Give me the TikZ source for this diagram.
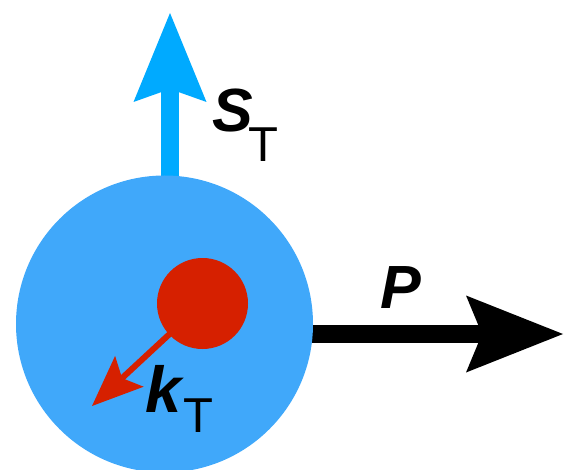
\documentclass[tikz,border=0pt]{standalone}
\usepackage{fontspec}
\setmainfont{Liberation Sans}
\usetikzlibrary{arrows.meta}
\definecolor{nucleon}{RGB}{64,168,250}
\definecolor{spin}{RGB}{0,170,255}
\definecolor{quarkred}{RGB}{214,32,0}
\tikzset{
  nucleonball/.style={circle, fill=nucleon, inner sep=0pt, minimum size=297pt},
  quarkball/.style={circle, fill=quarkred, inner sep=0pt, minimum size=91pt},
  spinarrow/.style={color=spin, line width=18pt, -{Stealth[length=89pt,width=73pt,inset=13pt,line width=0pt]}},
  momarrow/.style={color=black, line width=18pt, -{Stealth[length=97pt,width=77pt,inset=16pt,line width=0pt]}},
  karrow/.style={color=quarkred, line width=6pt, -{Stealth[length=51pt,width=42pt,inset=10pt,line width=0pt]}},
  lbl/.style={inner sep=0pt, font=\fontsize{61}{61}\selectfont\bfseries\itshape},
  sublbl/.style={inner sep=0pt, font=\fontsize{49}{49}\selectfont}
}
\begin{document}
\begin{tikzpicture}[x=1pt,y=-1pt]
\useasboundingbox (0,0) rectangle (564,470);
\coordinate (stip) at (170,13);
\coordinate (sbase) at (170,200);
\coordinate (pbase) at (290,334);
\coordinate (ptip) at (563,334);
\coordinate (ktip) at (92,406);
\coordinate (qc) at (202.5,303.5);
\draw[spinarrow] (sbase) -- (stip);
\draw[momarrow] (pbase) -- (ptip);
\node[nucleonball] (N) at (164.5,324) {};
\draw[karrow] (qc) -- (ktip);
\node[quarkball] (q) at (qc) {};
\node[lbl, anchor=base west] (S) at (212,132) {S};
\node[sublbl, anchor=base west] (ST) at (248,162) {T};
\node[lbl, anchor=base west] (P) at (380,308) {P};
\node[lbl, font=\fontsize{65}{65}\selectfont\bfseries\itshape, anchor=base west] (K) at (145,412) {k};
\node[sublbl, anchor=base west] (KT) at (183,432) {T};
\end{tikzpicture}
\end{document}
